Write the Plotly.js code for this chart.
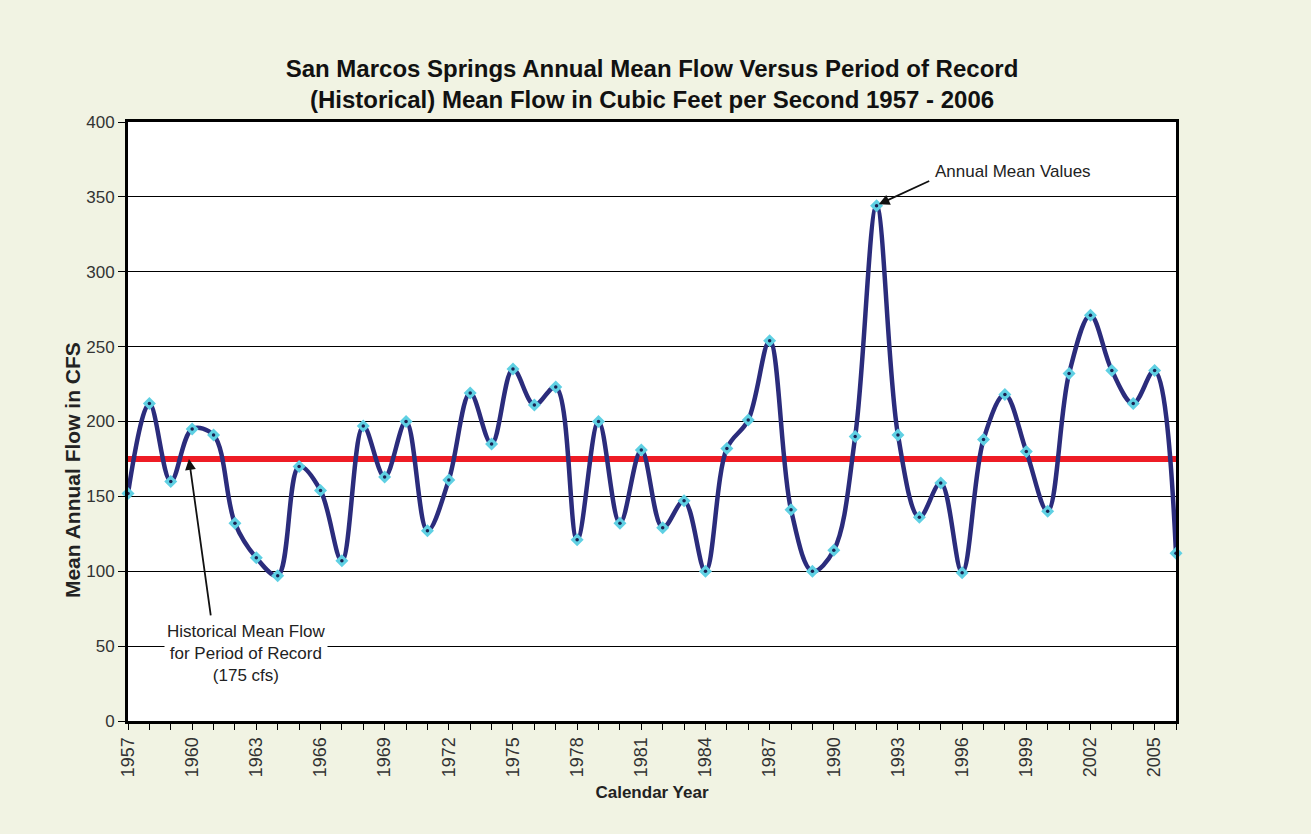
<!DOCTYPE html>
<html>
<head>
<meta charset="utf-8">
<script src="https://cdn.plot.ly/plotly-3.0.1.min.js"></script>
<style>
html,body{margin:0;padding:0;background:#ffffff;}
#chart{width:1311px;height:834px;}
</style>
</head>
<body>
<div id="chart"></div>
<script>
const years = [1957,1958,1959,1960,1961,1962,1963,1964,1965,1966,1967,1968,1969,1970,1971,1972,1973,1974,1975,1976,1977,1978,1979,1980,1981,1982,1983,1984,1985,1986,1987,1988,1989,1990,1991,1992,1993,1994,1995,1996,1997,1998,1999,2000,2001,2002,2003,2004,2005,2006];
const meanFlow = [152,212,160,195,191,132,109,97,170,154,107,197,163,200,127,161,219,185,235,211,223,121,200,132,181,129,147,100,182,201,254,141,100,114,190,344,191,136,159,99,188,218,180,140,232,271,234,212,234,112];
const historicalMean = 175;
const periodStart = 1957, periodEnd = 2006;
const tickYears = [1957,1960,1963,1966,1969,1972,1975,1978,1981,1984,1987,1990,1993,1996,1999,2002,2005];

const traces = [
  {x:[periodStart,periodEnd], y:[historicalMean,historicalMean], mode:'lines',
   line:{color:'#ee1c25', width:6}, hoverinfo:'skip', showlegend:false, cliponaxis:false},
  {x:years, y:meanFlow, mode:'lines', line:{color:'#2b2c7c', width:4.5, shape:'spline', smoothing:1},
   showlegend:false, cliponaxis:false},
  {x:years, y:meanFlow, mode:'markers', marker:{symbol:'diamond', size:10, color:'#5fd0e3', line:{width:0}},
   showlegend:false, cliponaxis:false},
  {x:years, y:meanFlow, mode:'markers', marker:{symbol:'circle', size:3.5, color:'#1a2150', line:{width:0}},
   showlegend:false, cliponaxis:false, hoverinfo:'skip'}
];

const layout = {
  width:1311, height:834,
  paper_bgcolor:'#f1f3e3', plot_bgcolor:'#ffffff',
  margin:{l:128, r:135, t:122, b:113},
  font:{family:'Liberation Sans, Arial, sans-serif', color:'#222'},
  title:{text:'<b>San Marcos Springs Annual Mean Flow Versus Period of Record<br>(Historical) Mean Flow in Cubic Feet per Second 1957 - 2006</b>',
         font:{size:24, color:'#111'}, x:0.5, xref:'paper', y:0.908, yref:'container', yanchor:'middle'},
  xaxis:{range:[periodStart,periodEnd], tickmode:'array', tickvals:tickYears, ticktext:tickYears.map(String),
         tickangle:-90, tickfont:{size:18, color:'#333'}, ticks:'outside', ticklen:6, tickcolor:'#000',
         minor:{dtick:1, tick0:1957, ticks:'outside', ticklen:6, tickcolor:'#000', showgrid:false},
         showgrid:false, zeroline:false, showline:true, linecolor:'#000', linewidth:3, mirror:true,
         title:{text:'<b>Calendar Year</b>', font:{size:17, color:'#222'}, standoff:10}},
  yaxis:{range:[0,400], dtick:50, tickfont:{size:17, color:'#333'}, ticks:'outside', ticklen:7, tickcolor:'#000',
         showgrid:true, gridcolor:'#000', gridwidth:1, zeroline:false, showline:true, linecolor:'#000', linewidth:3, mirror:true},
  annotations:[
    {x:-0.0534, y:0.419, xref:'paper', yref:'paper', text:'<b>Mean Annual Flow in CFS</b>', textangle:-90, showarrow:false,
     font:{size:21, color:'#222'}, xanchor:'center', yanchor:'middle'},
    {x:1992.1, y:345, xref:'x', yref:'y', ax:52, ay:-24, showarrow:true, arrowhead:2, arrowsize:1.2, arrowwidth:1.8, arrowcolor:'#111', text:''},
    {x:1998.4, y:367, xref:'x', yref:'y', text:'Annual Mean Values', showarrow:false, font:{size:17, color:'#222'}},
    {x:1959.85, y:175, xref:'x', yref:'y', ax:22, ay:158, showarrow:true, arrowhead:2, arrowsize:1.2, arrowwidth:1.8, arrowcolor:'#111', text:''},
    {x:1962.5, y:45, xref:'x', yref:'y', text:'Historical Mean Flow<br>for Period of Record<br>(175 cfs)', showarrow:false,
     font:{size:17, color:'#222'}, bgcolor:'#ffffff', borderpad:2}
  ]
};

Plotly.newPlot('chart', traces, layout, {displayModeBar:false, staticPlot:true});
</script>
</body>
</html>
